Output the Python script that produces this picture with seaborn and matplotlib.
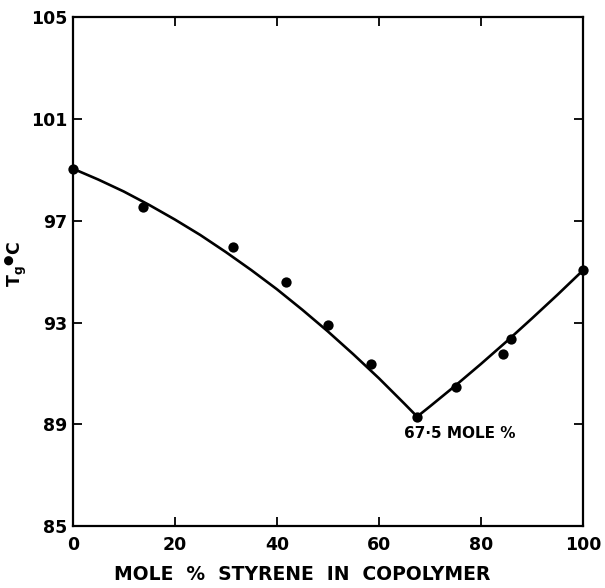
import matplotlib
matplotlib.use("Agg")
import matplotlib.pyplot as plt
import seaborn as sns
import pandas as pd

# Measured glass transition temperatures
styrene_mol_pct = [0, 13.8, 31.5, 41.8, 50.0, 58.5, 67.5, 75.1, 84.3, 85.9, 100]
tg_celsius = [99.05, 97.55, 95.95, 94.6, 92.9, 91.35, 89.3, 90.45, 91.75, 92.35, 95.05]

# Smooth trend drawn through the data (two branches meeting at 67.5 mol %)
curve_x = [0, 5, 10, 15, 20, 25, 30, 35, 40, 45, 50, 55, 60, 65, 67.5,
           70, 75, 80, 85, 90, 95, 100]
curve_y = [99.05, 98.62, 98.15, 97.62, 97.05, 96.44, 95.77, 95.06, 94.31,
           93.50, 92.65, 91.75, 90.81, 89.81, 89.30,
           89.70, 90.52, 91.37, 92.25, 93.16, 94.09, 95.05]

x_ticks = [0, 20, 40, 60, 80, 100]
y_ticks = [85, 89, 93, 97, 101, 105]

sns.set_theme(style="ticks")
plt.rcParams["font.family"] = ["DejaVu Sans"]
plt.rcParams["font.weight"] = "bold"
plt.rcParams["mathtext.default"] = "bf"
plt.rcParams["text.color"] = "black"
plt.rcParams["xtick.color"] = "black"
plt.rcParams["ytick.color"] = "black"

fig = plt.figure(figsize=(6.05, 5.88), dpi=100)
ax = fig.add_axes([0.1202, 0.1054, 0.8434, 0.8653])

points = pd.DataFrame({"x": styrene_mol_pct, "y": tg_celsius})
curve = pd.DataFrame({"x": curve_x, "y": curve_y})

sns.lineplot(data=curve, x="x", y="y", ax=ax, color="black", linewidth=1.9,
             estimator=None, sort=False)
sns.scatterplot(data=points, x="x", y="y", ax=ax, color="black", s=55,
                edgecolor="black", linewidth=0, zorder=3, clip_on=False)

ax.set_xlim(0, 100)
ax.set_ylim(85, 105)
ax.set_xticks(x_ticks)
ax.set_yticks(y_ticks)
ax.set_xticklabels([str(t) for t in x_ticks], fontsize=12.5, fontweight="bold",
                   color="black")
ax.set_yticklabels([str(t) for t in y_ticks], fontsize=12.5, fontweight="bold",
                   color="black")
ax.tick_params(direction="in", length=6.5, width=1.3, top=True, right=True,
               colors="black")
ax.tick_params(axis="x", pad=7)
ax.tick_params(axis="y", pad=4)
for side in ax.spines.values():
    side.set_linewidth(1.6)
    side.set_color("black")
ax.set_xlabel("")
ax.set_ylabel("")

ax.text(75.9, 88.62, "67·5 MOLE %", ha="center", va="center",
        fontsize=11, fontweight="bold", color="black")

fig.text(302 / 605, 1 - 575 / 588, "MOLE  %  STYRENE  IN  COPOLYMER",
         ha="center", va="center", fontsize=13.5, fontweight="bold",
         color="black")
fig.text(16 / 605, 1 - 264 / 588, r"T$_{g}$$^{●}$C", rotation=90,
         ha="center", va="center", fontsize=12.5, fontweight="bold",
         color="black")

fig.savefig("out.png", dpi=100, facecolor="white")
